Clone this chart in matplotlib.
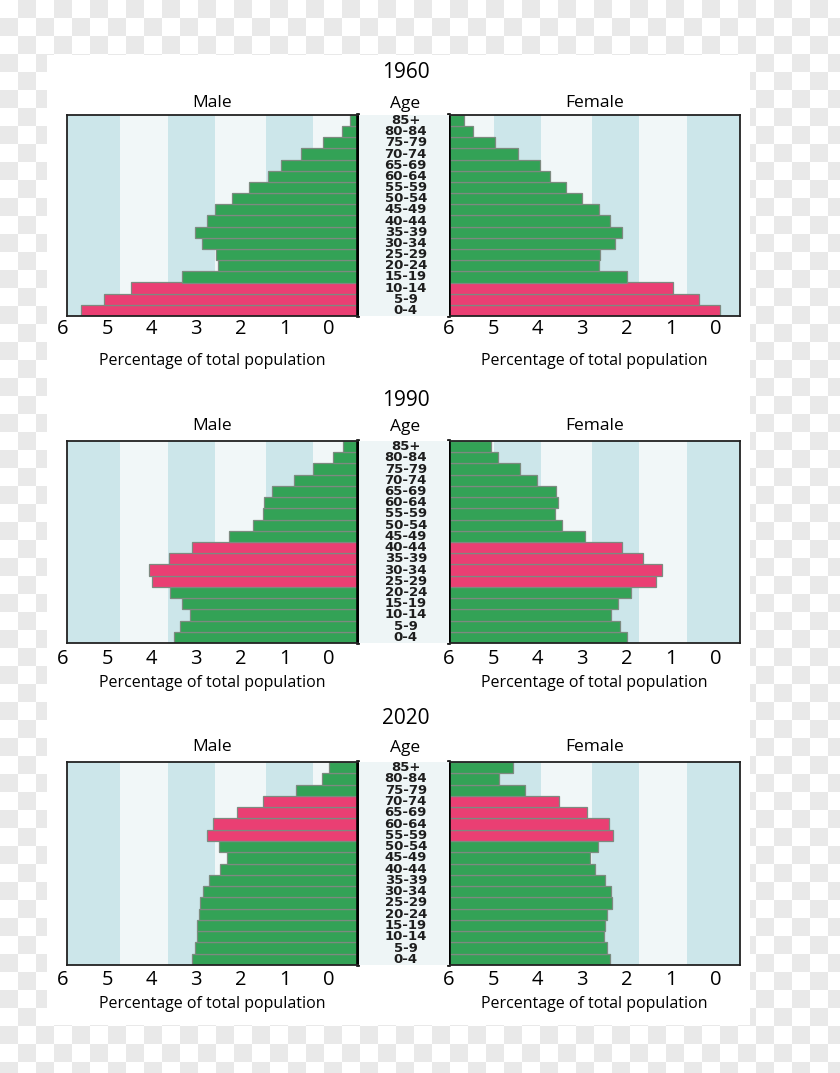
import numpy as np
import matplotlib
matplotlib.use("Agg")
import matplotlib.pyplot as plt
import matplotlib.transforms as mtransforms
from matplotlib.patches import Rectangle

W, H = 840, 1073

ages = ["0-4", "5-9", "10-14", "15-19", "20-24", "25-29", "30-34", "35-39", "40-44",
        "45-49", "50-54", "55-59", "60-64", "65-69", "70-74", "75-79", "80-84", "85+"]

years = ["1960", "1990", "2020"]

# bar lengths in percent, 0-4 first
male_1960 = [6.23, 5.72, 5.12, 3.97, 3.15, 3.20, 3.51, 3.66, 3.41, 3.21, 2.83, 2.45, 2.03, 1.74, 1.28, 0.78, 0.35, 0.18]
female_1960 = [6.10, 5.62, 5.05, 4.02, 3.38, 3.39, 3.73, 3.90, 3.62, 3.38, 2.99, 2.63, 2.28, 2.04, 1.55, 1.03, 0.55, 0.34]
male_1990 = [4.15, 4.00, 3.78, 3.96, 4.23, 4.64, 4.71, 4.26, 3.75, 2.91, 2.36, 2.15, 2.12, 1.94, 1.45, 1.01, 0.56, 0.34]
female_1990 = [4.01, 3.86, 3.65, 3.81, 4.11, 4.66, 4.80, 4.38, 3.89, 3.06, 2.54, 2.39, 2.46, 2.42, 1.99, 1.61, 1.10, 0.94]
male_2020 = [3.73, 3.66, 3.62, 3.62, 3.59, 3.56, 3.49, 3.35, 3.10, 2.95, 3.12, 3.39, 3.27, 2.73, 2.13, 1.40, 0.80, 0.65]
female_2020 = [3.62, 3.56, 3.50, 3.52, 3.56, 3.66, 3.65, 3.52, 3.28, 3.18, 3.36, 3.69, 3.60, 3.11, 2.47, 1.72, 1.13, 1.44]

highlight_1960 = ["0-4", "5-9", "10-14"]
highlight_1990 = ["25-29", "30-34", "35-39", "40-44"]
highlight_2020 = ["55-59", "60-64", "65-69", "70-74"]

tick_labels = ["6", "5", "4", "3", "2", "1", "0"]

male_data = [male_1960, male_1990, male_2020]
female_data = [female_1960, female_1990, female_2020]
highlights = [highlight_1960, highlight_1990, highlight_2020]

# layout (pixels)
panel_top = [115, 441, 762]
panel_bot = [316, 643, 965]
tick_y = [329, 659, 980]
xlabel_y = [361, 683, 1004]
header_y = [103, 426, 747]
year_y = [73, 401, 718]
MALE_X = (67, 358)
FEMALE_X = (449, 740)
PX_PER_UNIT = 44.4
XMAX = (MALE_X[1] - MALE_X[0]) / PX_PER_UNIT
BANDS = [(1.02, 2.08), (3.23, 4.28), (5.36, XMAX)]

GREEN = "#33a256"
PINK = "#ea3f73"
BAND_BLUE = "#cce6ea"
BAND_WHITE = "#f1f7f8"
FONT = "Open Sans"


def px_axes(fig, x0, y0, x1, y1):
    return fig.add_axes([x0 / W, 1 - y1 / H, (x1 - x0) / W, (y1 - y0) / H])


def ftext(fig, x, y, s, **kw):
    fig.text(x / W, 1 - y / H, s, ha="center", va="center", **kw)


fig = plt.figure(figsize=(W / 100, H / 100), dpi=100)

# checkerboard backdrop with white sheet
bg = fig.add_axes([0, 0, 1, 1])
rows, cols = np.indices((int(np.ceil(H / 18)), int(np.ceil(W / 18))))
checker = (rows + cols) % 2
bg.imshow(checker, cmap=matplotlib.colors.ListedColormap(["#ffffff", "#e9e9e9"]),
          extent=(0, checker.shape[1] * 18, checker.shape[0] * 18, 0), interpolation="nearest")
bg.add_patch(Rectangle((47, 55), 703, 970, facecolor="white", edgecolor="none"))
bg.set_xlim(0, W)
bg.set_ylim(H, 0)
bg.axis("off")

y = np.arange(len(ages))

for k, year in enumerate(years):
    top, bot = panel_top[k], panel_bot[k]
    colors = [PINK if a in highlights[k] else GREEN for a in ages]

    for side, xs, vals in (("male", MALE_X, male_data[k]), ("female", FEMALE_X, female_data[k])):
        ax = px_axes(fig, xs[0], top, xs[1], bot)
        ax.set_facecolor(BAND_WHITE)
        for b0, b1 in BANDS:
            ax.axvspan(b0, b1, color=BAND_BLUE, lw=0)
        ax.barh(y, vals, height=1.0, color=colors, edgecolor="#7d8a80", linewidth=0.9)
        ax.set_ylim(-0.5, len(ages) - 0.5)
        ax.set_xticks([])
        ax.set_yticks([])
        for sp in ax.spines.values():
            sp.set_linewidth(1.3)
            sp.set_color("#222222")
        trans = mtransforms.blended_transform_factory(ax.transData, fig.transFigure)
        if side == "male":
            ax.set_xlim(XMAX, 0)
            ax.spines["right"].set_linewidth(2.6)
            ax.spines["right"].set_color("black")
            positions = [int(t) + 0.65 for t in tick_labels]
        else:
            ax.set_xlim(0, XMAX)
            ax.spines["left"].set_linewidth(2.6)
            ax.spines["left"].set_color("black")
            positions = [6 - int(t) for t in tick_labels]
        for pos, lab in zip(positions, tick_labels):
            ax.text(pos, 1 - tick_y[k] / H, lab, transform=trans, ha="center", va="center",
                    fontsize=14.5, family=FONT, clip_on=False)
        cx = (xs[0] + xs[1]) / 2
        ftext(fig, cx, xlabel_y[k], "Percentage of total population", fontsize=11.5, family=FONT)
        ftext(fig, cx, header_y[k], "Male" if side == "male" else "Female", fontsize=12.5, family=FONT)

    # age column
    age_ax = px_axes(fig, MALE_X[1] + 1, top, FEMALE_X[0], bot)
    age_ax.set_facecolor("#eef5f6")
    age_ax.set_xlim(0, 1)
    age_ax.set_ylim(-0.5, len(ages) - 0.5)
    for i, a in enumerate(ages):
        age_ax.text(0.52, i, a, ha="center", va="center", fontsize=9.5,
                    fontweight="bold", family="DejaVu Sans", color="#1e1e1e")
    age_ax.set_xticks([])
    age_ax.set_yticks([])
    for sp in age_ax.spines.values():
        sp.set_visible(False)

    ftext(fig, 405, header_y[k] + 1, "Age", fontsize=12.5, family=FONT)
    ftext(fig, 406, year_y[k], year, fontsize=15, family=FONT)

fig.savefig("out.png", dpi=100)
plt.close(fig)
